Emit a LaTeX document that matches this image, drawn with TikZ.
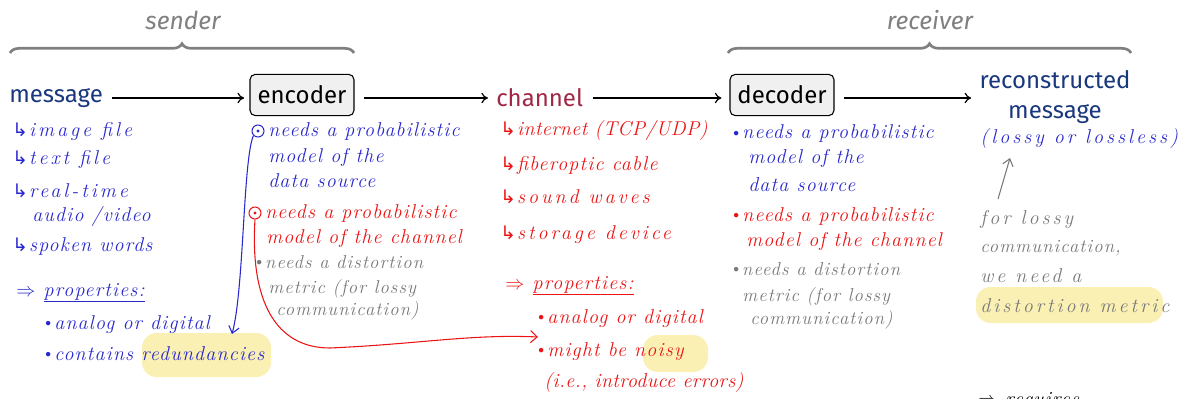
\documentclass[tikz,border=0pt]{standalone}
\usepackage{fontspec}
\setmainfont{Fira Sans}
\newfontfamily\hand[LetterSpace=6]{Latin Modern Roman}
\newfontfamily\handw[LetterSpace=15]{Latin Modern Roman}
\newfontfamily\handn[LetterSpace=2]{Latin Modern Roman}
\newfontfamily\sym{DejaVu Sans}
\usetikzlibrary{decorations.pathreplacing,arrows.meta,calc}

\definecolor{navy}{RGB}{25,55,125}
\definecolor{chred}{RGB}{160,40,70}
\definecolor{inkblue}{RGB}{40,40,205}
\definecolor{inkred}{RGB}{235,20,20}
\definecolor{inkgray}{RGB}{120,120,120}
\definecolor{bracegray}{RGB}{128,128,128}
\definecolor{boxgray}{RGB}{240,240,240}
\definecolor{hilite}{RGB}{250,240,180}

\newcommand{\hk}{{\sym\fontsize{14}{16}\selectfont ↳}\hspace{1pt}}
\newcommand{\dotb}{\raisebox{0.25ex}{\scalebox{0.6}{$\bullet$}}\,}

\begin{document}
\begin{tikzpicture}[x=0.75pt,y=-0.75pt,
  mainlbl/.style={font=\fontsize{18}{20}\selectfont, inner sep=0pt},
  stagebox/.style={draw, rounded corners=4pt, fill=boxgray, line width=0.8pt,
    minimum width=78pt, minimum height=31pt, inner sep=0pt,
    font=\fontsize{18}{20}\selectfont},
  role/.style={font=\itshape\fontsize{18.5}{20}\selectfont, text=bracegray, inner sep=0pt},
  brc/.style={decorate, decoration={brace, amplitude=7pt, aspect=0.5},
    line width=2pt, draw=bracegray},
  flow/.style={-{To[length=5pt,width=8pt]}, line width=0.9pt},
  hw/.style={font=\hand\itshape\fontsize{15}{17}\selectfont, anchor=base west, inner sep=0pt},
  wide/.style={font=\handw\itshape\fontsize{15}{17}\selectfont},
  narrow/.style={font=\handn\itshape\fontsize{15}{17}\selectfont},
  hwb/.style={hw, text=inkblue},
  hwr/.style={hw, text=inkred},
  hwg/.style={hw, text=inkgray, font=\hand\itshape\fontsize{14}{16}\selectfont},
  ring/.style={circle, draw, line width=0.8pt, minimum size=9pt, inner sep=0pt},
  hl/.style={fill=hilite, rounded corners=11pt}
]
\useasboundingbox (0,0) rectangle (1181,399);
\clip (0,0) rectangle (1181,399);

% highlights behind the notes
\fill[hl] (142,333) rectangle (271,377);
\fill[hl] (643,335) rectangle (708,372);
\fill[hl] (976,287) rectangle (1163,323);

% sender / receiver braces
\node[role] (snd) at (183,20) {sender};
\node[role] (rcv) at (930,20) {receiver};
\draw[brc] (10,53) -- (354,53);
\draw[brc] (728,53) -- (1131,53);

% main chain
\node[mainlbl, text=navy, anchor=west] (msg) at (9,98) {message};
\node[stagebox] (enc) at (302,95) {encoder};
\node[mainlbl, text=chred, anchor=west] (chan) at (496,98) {channel};
\node[stagebox] (dec) at (782,95) {decoder};
\node[mainlbl, text=navy, align=center, font=\fontsize{18}{22.5}\selectfont] (rec) at (1055,97) {reconstructed\\message};

\draw[flow, shorten <=7pt, shorten >=4pt] (msg.east) -- (msg.east -| enc.west);
\draw[flow, shorten <=7pt, shorten >=6pt] (enc.east |- chan.west) -- (chan.west);
\draw[flow, shorten <=7pt, shorten >=6pt] (chan.east) -- (chan.east -| dec.west);
\draw[flow, shorten <=7pt, shorten >=6pt] (dec.east |- chan.east) -- (chan.east -| rec.west);

% message notes
\node[hwb, wide] (m1) at (12,137) {\hk image file};
\node[hwb, wide] (m2) at (12,165) {\hk text file};
\node[hwb, wide] (m3) at (12,198) {\hk real-time};
\node[hwb] (m4) at (32,221) {audio /video};
\node[hwb] (m5) at (12,251) {\hk spoken words};
\node[hwb] (m6) at (16,296) {$\Rightarrow$ \underline{properties:}};
\node[hwb] (m7) at (45,329) {\dotb analog or digital};
\node[hwb] (m8) at (45,360) {\dotb contains redundancies};

% encoder notes
\node[ring, draw=inkblue] (c1) at (258,131) {};
\fill[inkblue] (c1) circle (1.3pt);
\node[hwb] (e1) at (268,137) {needs a probabilistic};
\node[hwb] (e2) at (268,162) {model of the};
\node[hwb] (e3) at (268,188) {data source};
\node[ring, draw=inkred] (c2) at (255,213) {};
\fill[inkred] (c2) circle (1.3pt);
\node[hwr] (e4) at (265,219) {needs a probabilistic};
\node[hwr] (e5) at (266,243) {model of the channel};
\node[hwg] (e6) at (256,268) {\dotb needs a distortion};
\node[hwg] (e7) at (268,293) {metric (for lossy};
\node[hwg] (e8) at (276,315) {communication)};

% channel notes
\node[hwr, narrow] (k1) at (500,136) {\hk internet (TCP/UDP)};
\node[hwr] (k2) at (500,171) {\hk fiberoptic cable};
\node[hwr, wide] (k3) at (500,204) {\hk sound waves};
\node[hwr, wide] (k4) at (500,239) {\hk storage device};
\node[hwr] (k5) at (505,289) {$\Rightarrow$ \underline{properties:}};
\node[hwr] (k6) at (538,323) {\dotb analog or digital};
\node[hwr] (k7) at (538,356) {\dotb might be noisy};
\node[hwr, narrow] (k8) at (544,387) {(i.e., introduce errors)};

% decoder notes
\node[hwb] (d1) at (733,139) {\dotb needs a probabilistic};
\node[hwb] (d2) at (748,164) {model of the};
\node[hwb] (d3) at (748,191) {data source};
\node[hwr] (d4) at (733,221) {\dotb needs a probabilistic};
\node[hwr] (d5) at (746,246) {model of the channel};
\node[hwg] (d6) at (733,275) {\dotb needs a distortion};
\node[hwg] (d7) at (742,301) {metric (for lossy};
\node[hwg] (d8) at (750,324) {communication)};

% reconstruction notes
\node[hwb, wide] (r1) at (980,144) {(lossy or lossless)};
\node[hwg, wide] (r2) at (980,224) {for lossy};
\node[hwg] (r3) at (980,252) {communication,};
\node[hwg, wide] (r4) at (980,282) {we need a};
\node[hwg, wide] (r5) at (980,312) {distortion metric};
\node[hw, text=black] (r6) at (978,405) {$\Rightarrow$ requires};

% annotation arrows
\coordinate (bluetip) at (232,334);
\coordinate (redtip) at (538,337);
\coordinate (graytail) at (998,199);
\coordinate (grayhead) at (1010,158);
\draw[inkblue, line width=0.8pt, -{Straight Barb[length=5pt,width=8pt]}]
  (c1.south west) .. controls (243,160) and (244,290) .. (bluetip);
\draw[inkred, line width=0.8pt, -{Straight Barb[length=5pt,width=9pt]}]
  (c2.south) .. controls (250,300) and (275,348) .. (330,348)
  .. controls (420,344) and (470,334) .. (redtip);
\draw[inkgray, line width=0.8pt, -{Straight Barb[length=5pt,width=8pt]}]
  (graytail) -- (grayhead);
\end{tikzpicture}
\end{document}
